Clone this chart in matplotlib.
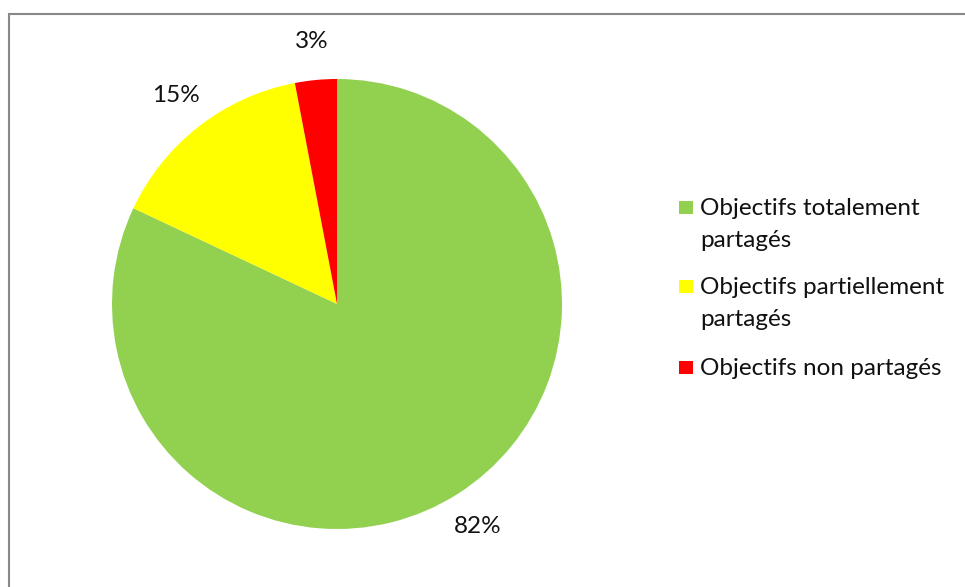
import matplotlib
matplotlib.use("Agg")
import matplotlib.pyplot as plt
from matplotlib.patches import Rectangle

categories = ["Objectifs totalement\npartagés", "Objectifs partiellement\npartagés", "Objectifs non partagés"]
values = [82, 15, 3]
colors = ["#92D050", "#FFFF00", "#FF0000"]

plt.rcParams['font.family'] = ['Lato', 'DejaVu Sans']

W, H = 965, 587
fig = plt.figure(figsize=(W/100, H/100), dpi=100)

# outer border (only top and left visible)
fig.patches.append(Rectangle((9/W, -0.05), 1.0, 1.05 - 14/H, transform=fig.transFigure,
                             fill=False, edgecolor="#888888", linewidth=1.5))

cx, cy, r = 337, 304, 225
ax = fig.add_axes([(cx - r)/W, (H - cy - r)/H, 2*r/W, 2*r/H])
wedges, texts, autotexts = ax.pie(values, colors=colors, startangle=90, counterclock=False,
                                  autopct=lambda p: f"{p:.0f}%", pctdistance=1.17,
                                  wedgeprops=dict(linewidth=0),
                                  textprops=dict(fontsize=17.5, color="#111111"))
ax.set_xlim(-1, 1)
ax.set_ylim(-1, 1)
ax.set_aspect("equal")

# legend drawn manually
item_tops = [201, 280, 361]
for lab, col, top in zip(categories, colors, item_tops):
    fig.patches.append(Rectangle((679/W, 1 - (top + 13)/H), 14/W, 13/H,
                                 transform=fig.transFigure, facecolor=col, edgecolor="none"))
    fig.text(700/W, 1 - (top - 3)/H, lab, ha="left", va="top", fontsize=17.5,
             color="#111111", linespacing=1.62)

fig.savefig("out.png", dpi=100)
